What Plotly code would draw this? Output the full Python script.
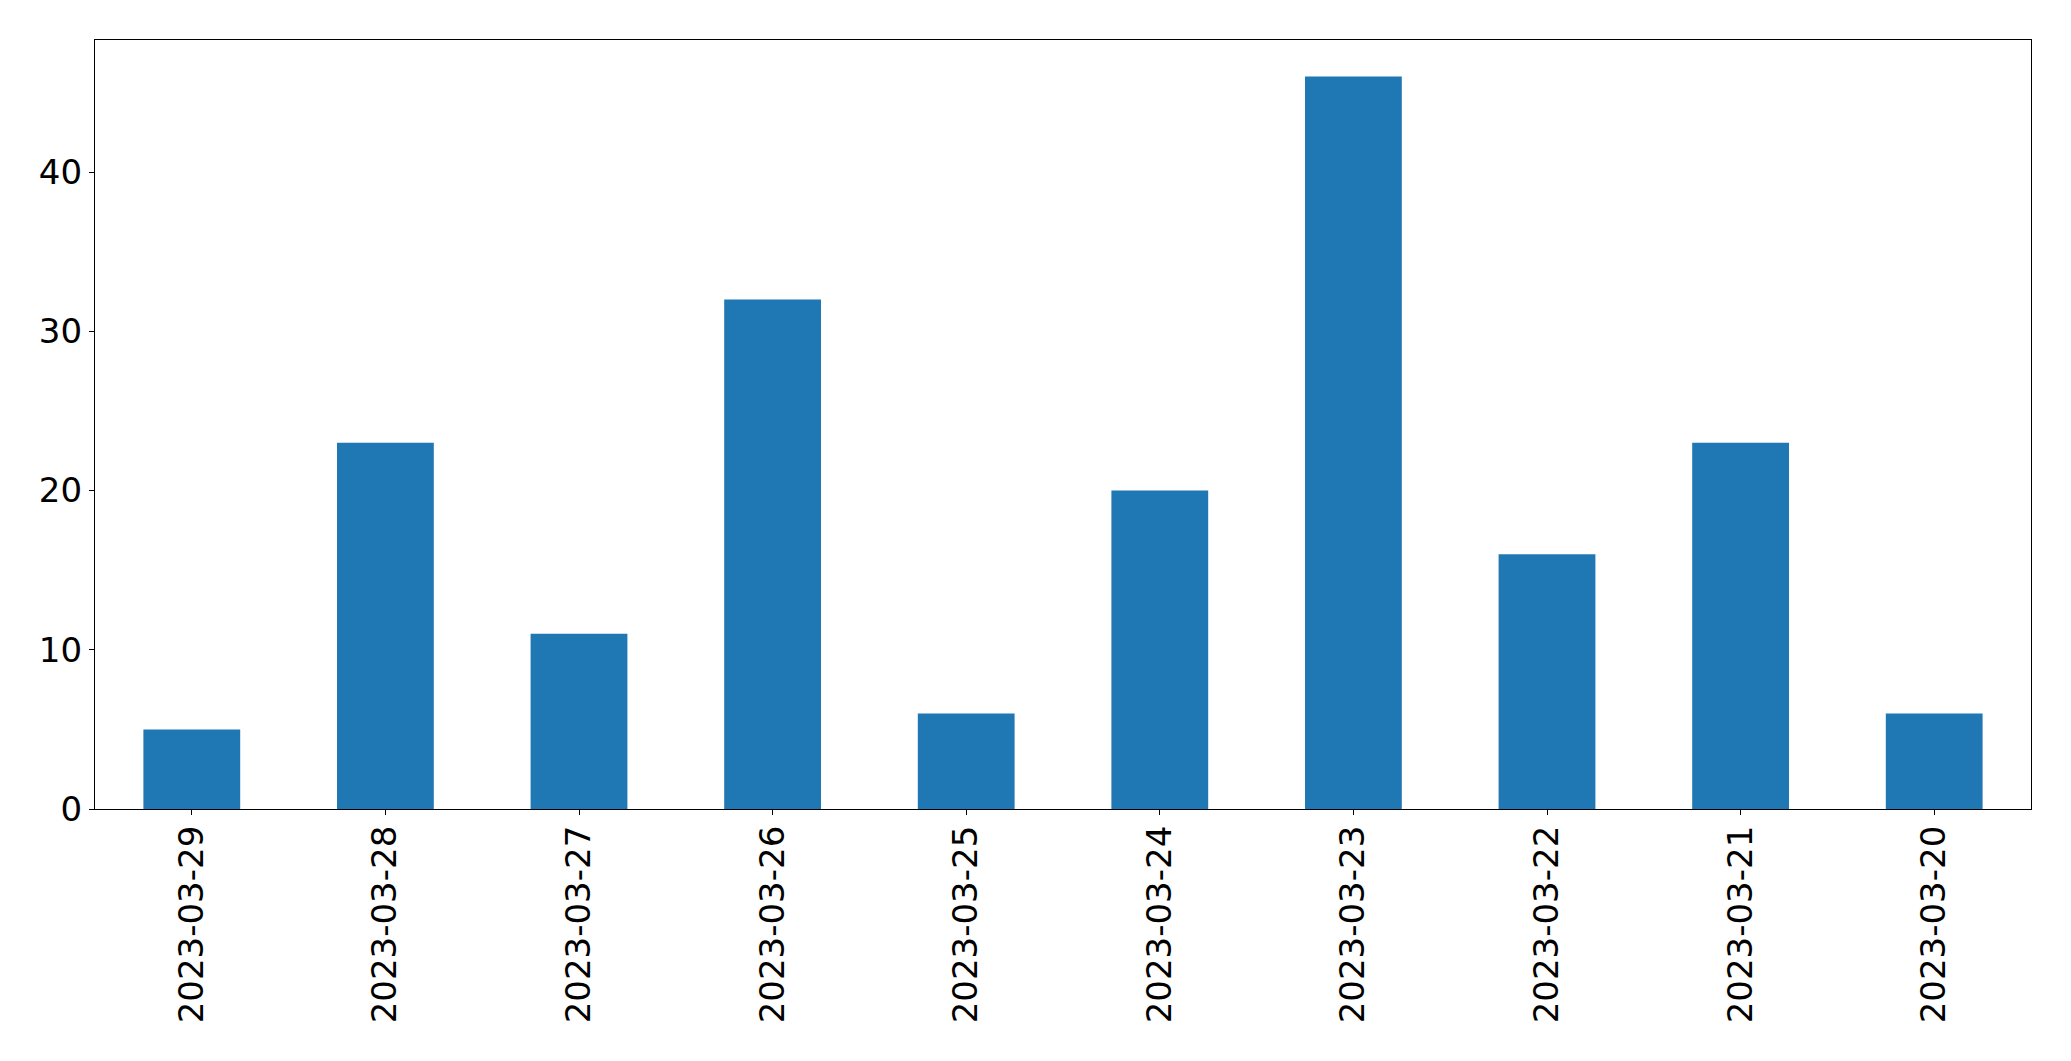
import plotly.graph_objects as go

dates = ["2023-03-29", "2023-03-28", "2023-03-27", "2023-03-26", "2023-03-25",
         "2023-03-24", "2023-03-23", "2023-03-22", "2023-03-21", "2023-03-20"]
counts = [5, 23, 11, 32, 6, 20, 46, 16, 23, 6]
y_ticks = [0, 10, 20, 30, 40]

fig = go.Figure()
fig.add_trace(go.Bar(
    x=list(range(len(dates))),
    y=counts,
    width=0.5,
    marker=dict(color="#1f77b4", line=dict(width=0)),
))

font = dict(family="DejaVu Sans", size=34, color="black")
fig.update_layout(
    width=2071, height=1061,
    margin=dict(l=95, r=40, t=40, b=252, pad=0),
    plot_bgcolor="white", paper_bgcolor="white",
    showlegend=False,
    font=font,
)
fig.update_xaxes(
    range=[-0.5, len(dates) - 0.5],
    tickmode="array", tickvals=list(range(len(dates))), ticktext=dates,
    tickangle=-90,
    ticks="outside", ticklen=5, tickwidth=1.2, tickcolor="black",
    ticklabelstandoff=-3,
    showline=True, linecolor="black", linewidth=1.3, mirror=True,
    showgrid=False, zeroline=False, tickfont=font,
)
fig.update_yaxes(
    range=[0, max(counts) * 1.05],
    tickmode="array", tickvals=y_ticks,
    ticks="outside", ticklen=5, tickwidth=1.2, tickcolor="black",
    showline=True, linecolor="black", linewidth=1.3, mirror=True,
    showgrid=False, zeroline=False, tickfont=font,
)
fig.write_html("out.html")
